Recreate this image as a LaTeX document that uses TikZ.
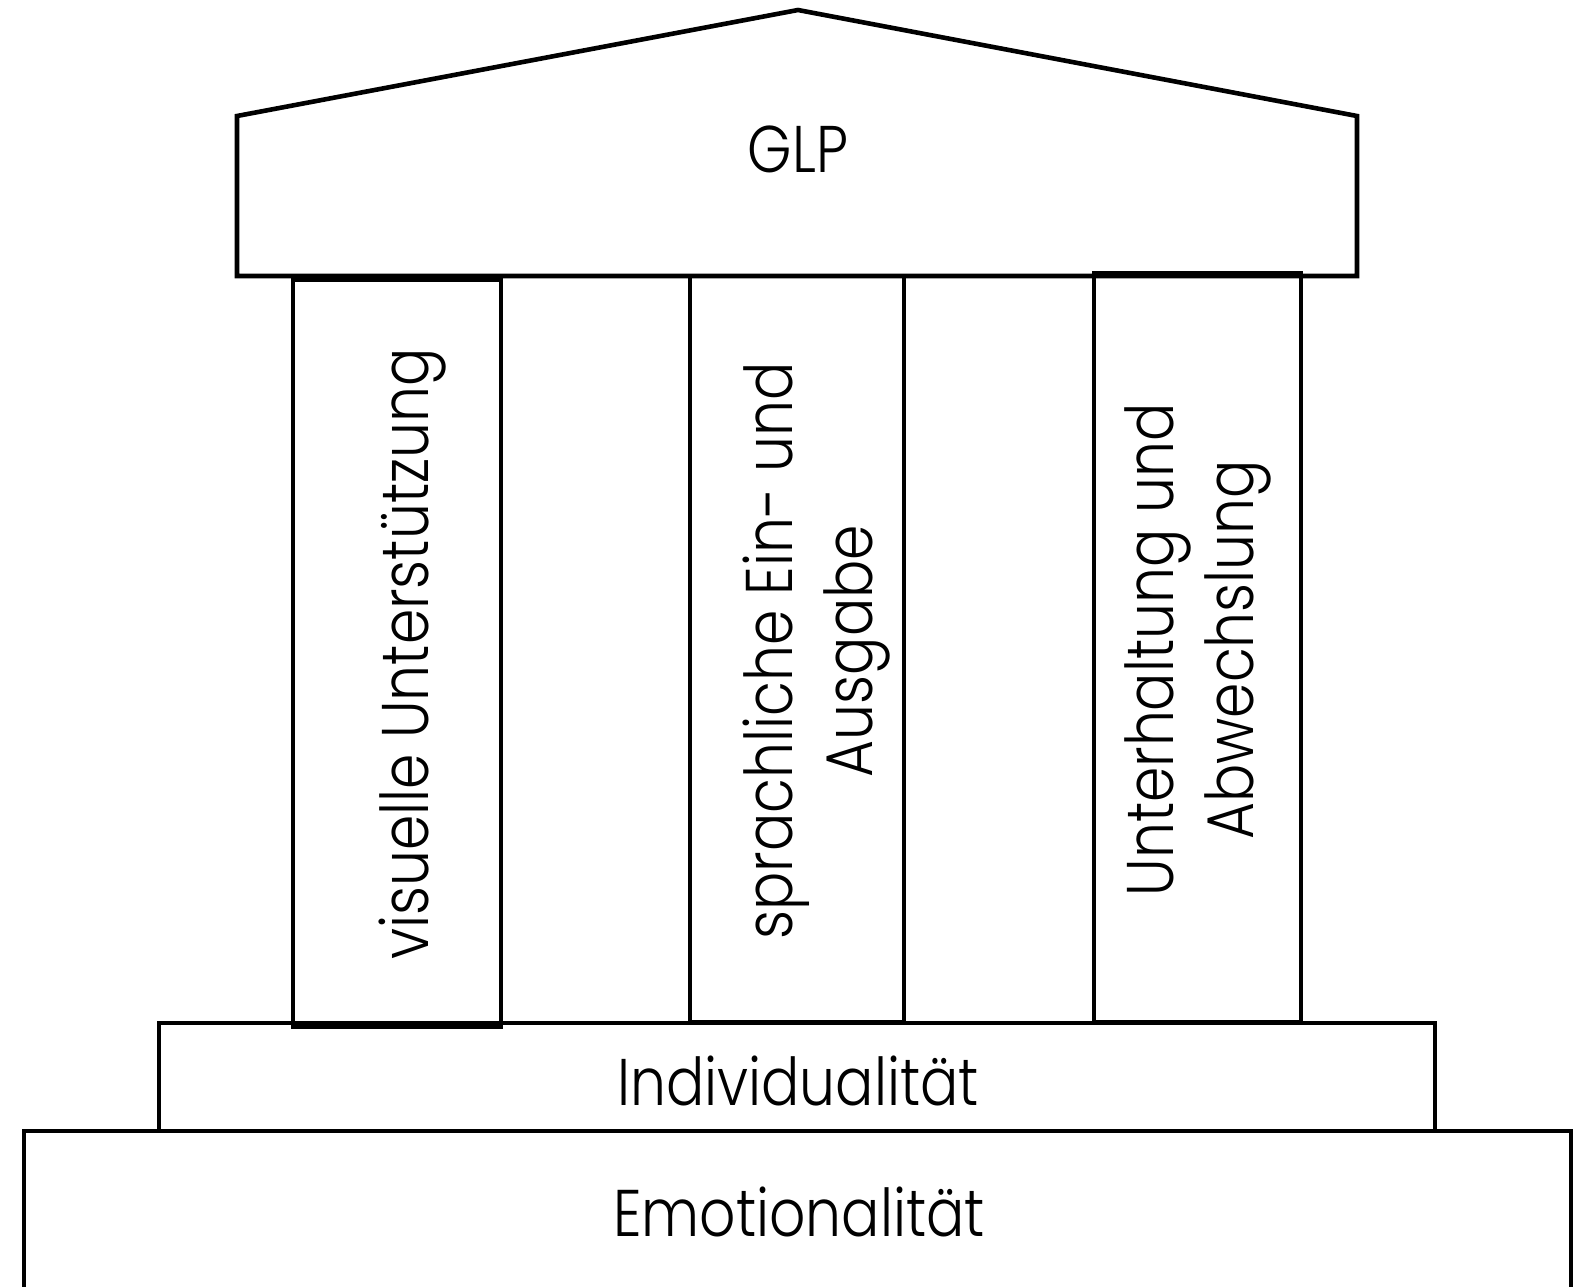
\documentclass[tikz,border=0pt]{standalone}
\usepackage{fontspec}
\setmainfont{Poppins Light}[FakeStretch=0.86]
\begin{document}
\begin{tikzpicture}[x=1pt,y=-1pt,
  line width=4.6pt, line join=miter,
  part/.style={draw=black},
  lbl/.style={font=\fontsize{66}{80}\selectfont, inner sep=0pt, align=center},
  vlbl/.style={lbl, rotate=90}]
\useasboundingbox (0,0) rectangle (1584,1286);
% base layers
\draw[part] (24,1320) -- (24,1131) -- (1571,1131) -- (1571,1320);
\coordinate (emoL) at (24,1131);
\node[part, minimum width=1276pt, minimum height=108pt, inner sep=0pt] (indiv) at (797,1077) {};
% pillars
\node[part, minimum width=208pt, minimum height=747pt, inner sep=0pt] (p1) at (397,653.5) {};
\node[part, minimum width=214pt, minimum height=746pt, inner sep=0pt] (p2) at (797,649) {};
\node[part, minimum width=207pt, minimum height=749pt, inner sep=0pt] (p3) at (1197.5,647.5) {};
% roof
\draw[part] (237,116) -- (798,10) -- (1357,116) -- (1357,276) -- (237,276) -- cycle;
% labels
\node[lbl] (glp) at (798,149) {GLP};
\node[lbl] (tindiv) at (798,1081) {Individualität};
\node[lbl] (temo) at (799,1212) {Emotionalität};
\node[vlbl] (t1) at (413,654) {visuelle Unterstützung};
\node[vlbl] (t2) at (817,651) {sprachliche Ein- und\\Ausgabe};
\node[vlbl] (t3) at (1198,650) {Unterhaltung und\\Abwechslung};
\end{tikzpicture}
\end{document}
